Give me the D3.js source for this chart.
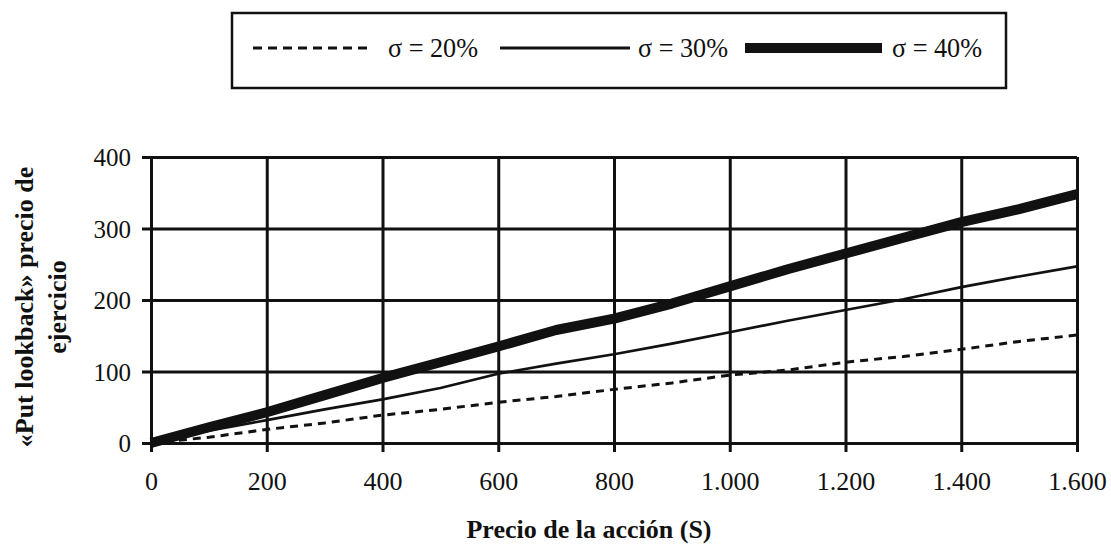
<!DOCTYPE html>
<html>
<head>
<meta charset="utf-8">
<script src="https://cdn.jsdelivr.net/npm/d3@7"></script>
<style>
    body { margin: 0; background: #fff; }
    text { font-family: "Liberation Serif", "Times New Roman", serif; fill: #111; }
</style>
</head>
<body>
<script>
//Data
    const precios = [0, 100, 200, 300, 400, 500, 600, 700, 800, 900, 1000, 1100, 1200, 1300, 1400, 1500, 1600];
    const sigma20 = [0, 8, 19, 28, 39, 47, 57, 65, 75, 84, 95, 102, 113, 121, 131, 142, 151];
    const sigma30 = [0, 17, 32, 47, 61, 77, 97, 111, 124, 139, 155, 171, 186, 201, 218, 233, 247];
    const sigma40 = [0, 22, 43, 67, 91, 113, 135, 158, 174, 195, 219, 243, 265, 287, 309, 327, 348];
    const seriesNames = ["σ = 20%", "σ = 30%", "σ = 40%"];
    const xTicks = [0, 200, 400, 600, 800, 1000, 1200, 1400, 1600];
    const yTicks = [0, 100, 200, 300, 400];

//Global variables
    const width = 1111;
    const height = 547;
    const plotLeft = 151, plotRight = 1077, plotTop = 157, plotBottom = 443;
    const ink = "#111";
    const serif = "Liberation Serif";

//Spanish number format (1.000)
    const fmt = d3.formatLocale({decimal: ",", thousands: ".", grouping: [3], currency: ["", ""]}).format(",");

//Scales
    const xScale = d3.scaleLinear()
                    .domain([0, 1600])
                    .range([plotLeft, plotRight]);

    const yScale = d3.scaleLinear()
                    .domain([0, 400])
                    .range([plotBottom, plotTop]);

//SVG element
    const svg = d3.select("body")
                .append("svg")
                .attr("width", width)
                .attr("height", height);

//Axes with full gridlines
    const bottomAxis = d3.axisBottom(xScale)
                        .tickValues(xTicks)
                        .tickFormat(fmt)
                        .tickSizeInner(-(plotBottom - plotTop))
                        .tickSizeOuter(0);

    const leftAxis = d3.axisLeft(yScale)
                        .tickValues(yTicks)
                        .tickFormat(fmt)
                        .tickSizeInner(-(plotRight - plotLeft))
                        .tickSizeOuter(0);

    const gx = svg.append("g")
        .attr("transform", "translate(0," + plotBottom + ")")
        .call(bottomAxis);
    gx.select(".domain").remove();
    gx.selectAll(".tick line")
        .attr("y1", 9)
        .attr("stroke", ink)
        .attr("stroke-width", 3);
    gx.selectAll(".tick text")
        .attr("y", 47)
        .attr("dy", 0)
        .attr("font-size", 26)
        .attr("font-family", serif);

    const gy = svg.append("g")
        .attr("transform", "translate(" + plotLeft + ",0)")
        .call(leftAxis);
    gy.select(".domain").remove();
    gy.selectAll(".tick line")
        .attr("x1", -9)
        .attr("stroke", ink)
        .attr("stroke-width", 3);
    gy.selectAll(".tick text")
        .attr("x", -20)
        .attr("dy", "0.34em")
        .attr("font-size", 25)
        .attr("font-family", serif);

//Lines
    const line = d3.line()
                .x((d, i) => xScale(precios[i]))
                .y(d => yScale(d));

    const styles = [
        {w: 3, dash: "8,6"},
        {w: 2.6, dash: null},
        {w: 10, dash: null}
    ];

    [sigma20, sigma30, sigma40].forEach((s, k) => {
        svg.append("path")
            .datum(s)
            .attr("d", line)
            .attr("fill", "none")
            .attr("stroke", ink)
            .attr("stroke-width", styles[k].w)
            .attr("stroke-dasharray", styles[k].dash)
            .attr("stroke-linejoin", "round");
    });

//Axis titles
    svg.append("text")
        .attr("x", 589)
        .attr("y", 538)
        .attr("text-anchor", "middle")
        .attr("font-family", serif)
        .attr("font-size", 26)
        .attr("font-weight", "bold")
        .text("Precio de la acción (S)");

    const yTitle = svg.append("text")
        .attr("transform", "translate(33,307) rotate(-90)")
        .attr("text-anchor", "middle")
        .attr("font-family", serif)
        .attr("font-size", 26)
        .attr("font-weight", "bold");
    yTitle.append("tspan").attr("x", 0).attr("y", 0).text("«Put lookback» precio de");
    yTitle.append("tspan").attr("x", 0).attr("y", 33).text("ejercicio");

//Legend
    svg.append("rect")
        .attr("x", 232)
        .attr("y", 13)
        .attr("width", 774)
        .attr("height", 75)
        .attr("fill", "#fff")
        .attr("stroke", ink)
        .attr("stroke-width", 2.5);

    const legendLines = [[253, 373], [500, 630], [745, 882]];
    const legendText = [388, 638, 892];

    seriesNames.forEach((name, k) => {
        svg.append("line")
            .attr("x1", legendLines[k][0])
            .attr("x2", legendLines[k][1])
            .attr("y1", 48)
            .attr("y2", 48)
            .attr("stroke", ink)
            .attr("stroke-width", k == 1 ? 3 : styles[k].w)
            .attr("stroke-dasharray", k == 0 ? "9,6" : null);

        svg.append("text")
            .attr("x", legendText[k])
            .attr("y", 57)
            .attr("font-family", serif)
            .attr("font-size", 28)
            .attr("textLength", 90)
            .attr("lengthAdjust", "spacingAndGlyphs")
            .text(name);
    });
</script>
</body>
</html>
